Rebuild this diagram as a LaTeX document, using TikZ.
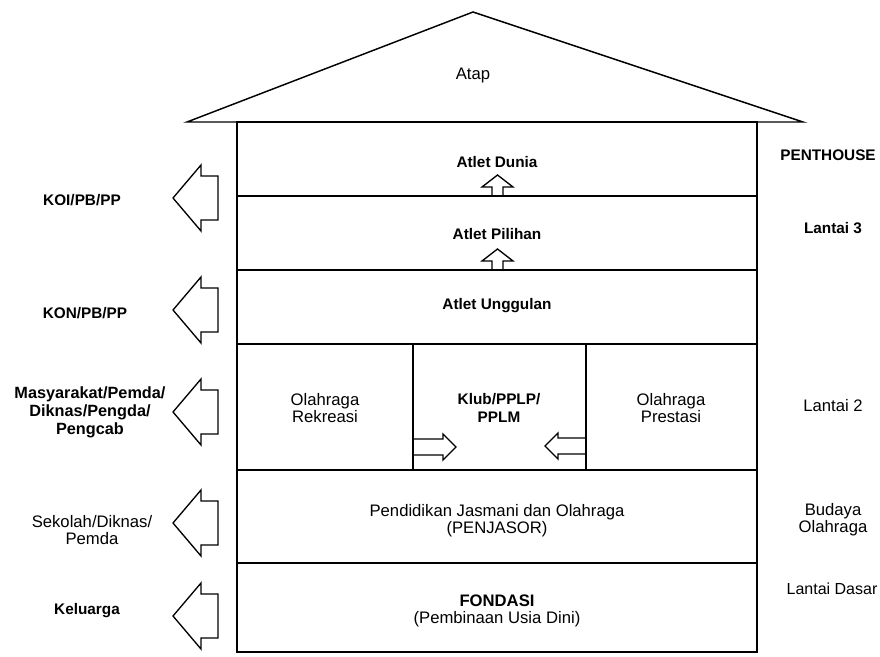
\documentclass[tikz,border=0pt]{standalone}
\usepackage{fontspec}
\setmainfont{Liberation Sans}

\begin{document}
\begin{tikzpicture}[x=0.75pt,y=0.75pt,yscale=-1,xscale=1,
  wall/.style={line width=1.1pt},
  blockarrow/.style={line width=1pt,line join=miter},
  plain/.style={inner sep=0.75pt,align=center,font=\fontsize{12.5}{13}\selectfont},
  heavy/.style={inner sep=0.75pt,align=center,font=\fontsize{11.5}{13.5}\selectfont\bfseries}]

\useasboundingbox (0,0) rectangle (880,656);

%Shape: Triangle (roof)
\draw [wall] (473,12) -- (803,122) -- (187,122) -- cycle ;
%Shape: Rectangle (house)
\draw [wall] (237,122) -- (757,122) -- (757,652) -- (237,652) -- cycle ;
%Straight Lines (floors)
\draw [wall] (237,196) -- (757,196) ;
\draw [wall] (237,270) -- (757,270) ;
\draw [wall] (237,344) -- (757,344) ;
\draw [wall] (237,470) -- (757,470) ;
\draw [wall] (237,563) -- (757,563) ;
%Straight Lines (rooms on Lantai 2)
\draw [wall] (413,344) -- (413,470) ;
\draw [wall] (586,344) -- (586,470) ;

%Shape: Up Arrow
\draw [blockarrow] (492,196) -- (492,187) -- (482,187) -- (497.5,175) -- (513,187) -- (503,187) -- (503,196) ;
%Shape: Up Arrow
\draw [blockarrow] (492,270) -- (492,261) -- (482,261) -- (497.5,249) -- (513,261) -- (503,261) -- (503,270) ;
%Shape: Right Arrow
\draw [blockarrow] (413,439) -- (443,439) -- (443,434) -- (456,447) -- (443,460) -- (443,455) -- (413,455) ;
%Shape: Left Arrow
\draw [blockarrow] (586,438) -- (558,438) -- (558,433) -- (545,446) -- (558,459) -- (558,454) -- (586,454) ;

%Shape: Left Arrow
\draw [blockarrow] (218,176) -- (201,176) -- (201,165) -- (173,198) -- (201,231) -- (201,220) -- (218,220) -- cycle ;
%Shape: Left Arrow
\draw [blockarrow] (218,288) -- (201,288) -- (201,277) -- (173,310) -- (201,343) -- (201,332) -- (218,332) -- cycle ;
%Shape: Left Arrow
\draw [blockarrow] (218,390) -- (201,390) -- (201,379) -- (173,412) -- (201,445) -- (201,434) -- (218,434) -- cycle ;
%Shape: Left Arrow
\draw [blockarrow] (218,501) -- (201,501) -- (201,490) -- (173,523) -- (201,556) -- (201,545) -- (218,545) -- cycle ;
%Shape: Left Arrow
\draw [blockarrow] (218,594) -- (201,594) -- (201,583) -- (173,616) -- (201,649) -- (201,638) -- (218,638) -- cycle ;

% Text Node
\draw (473,75) node [plain] (atap) {Atap};
% Text Node
\draw (497,162) node [heavy] (dunia) {Atlet Dunia};
% Text Node
\draw (497,234) node [heavy] (pilihan) {Atlet Pilihan};
% Text Node
\draw (497,306) node [heavy] (unggulan) {Atlet Unggulan};
% Text Node
\draw (325,408) node [plain] (rekreasi) {Olahraga\\Rekreasi};
% Text Node
\draw (499,408) node [heavy] (klub) {Klub/PPLP/\\PPLM};
% Text Node
\draw (671,408) node [plain] (prestasi) {Olahraga\\Prestasi};
% Text Node
\draw (497,521) node [plain] (penjasor) {Pendidikan Jasmani dan Olahraga\\(PENJASOR)};
% Text Node
\draw (497,611) node [plain] (fondasi) {\textbf{FONDASI}\\(Pembinaan Usia Dini)};

% Text Node
\draw (82,200) node [heavy] (koi) {KOI/PB/PP};
% Text Node
\draw (85,313) node [heavy] (kon) {KON/PB/PP};
% Text Node
\draw (90,412) node [heavy,font=\fontsize{12.2}{13.5}\selectfont\bfseries] (masyarakat) {Masyarakat/Pemda/\\Diknas/Pengda/\\Pengcab};
% Text Node
\draw (92,530) node [plain] (sekolah) {Sekolah/Diknas/\\Pemda};
% Text Node
\draw (87,611) node [heavy] (keluarga) {Keluarga};

% Text Node
\draw (828,155) node [heavy] (penthouse) {PENTHOUSE};
% Text Node
\draw (833,228) node [heavy] (lantai3) {Lantai 3};
% Text Node
\draw (833,406) node [plain] (lantai2) {Lantai 2};
% Text Node
\draw (833,520) node [plain] (budaya) {Budaya\\Olahraga};
% Text Node
\draw (832,589) node [plain,font=\fontsize{12}{13}\selectfont] (dasar) {Lantai Dasar};

\end{tikzpicture}
\end{document}
